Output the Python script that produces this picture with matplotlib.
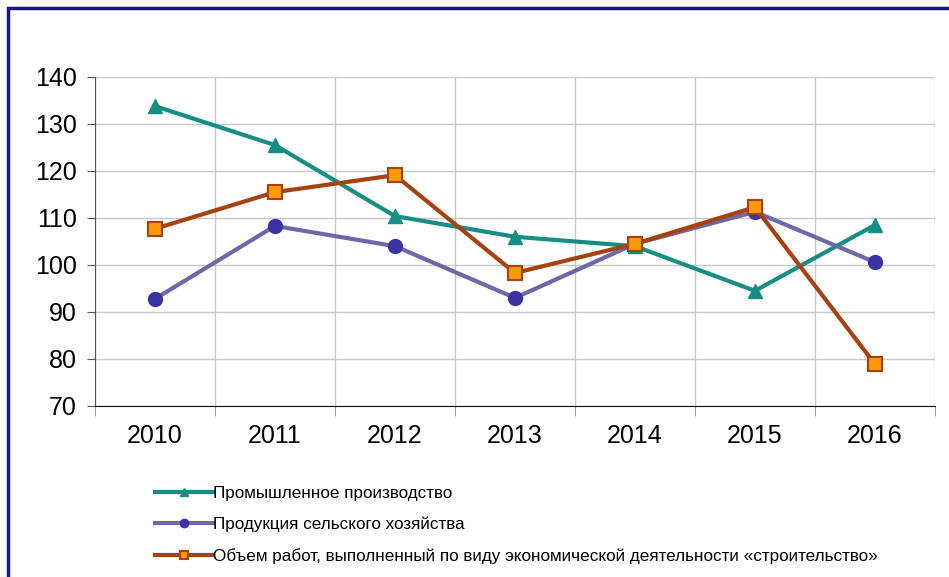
import matplotlib.pyplot as plt
from matplotlib.patches import Rectangle

plt.rcParams['font.family'] = ['Liberation Sans', 'DejaVu Sans']

years = ['2010', '2011', '2012', '2013', '2014', '2015', '2016']
industry = [133.8, 125.5, 110.4, 106.0, 104.0, 94.5, 108.5]
agriculture = [92.8, 108.3, 104.0, 93.0, 104.5, 111.3, 100.6]
construction = [107.7, 115.5, 119.1, 98.3, 104.5, 112.3, 78.9]
labels = ['Промышленное производство',
          'Продукция сельского хозяйства',
          'Объем работ, выполненный по виду экономической деятельности «строительство»']

fig = plt.figure(figsize=(9.49, 5.77), dpi=100)
# frame of the picture (only left and top edges visible)
fig.patches.append(Rectangle((0.0085, -0.05), 1.1, 1.036, transform=fig.transFigure,
                             fill=False, edgecolor='#1a1a80', linewidth=2.5))

ax = fig.add_axes([0.1001, 0.2964, 0.8851, 0.5702])
x = range(len(years))

ax.plot(x, industry, color='#168e84', lw=3, marker='^', ms=10,
        mfc='#168e84', mec='#168e84', label=labels[0], zorder=3)
ax.plot(x, agriculture, color='#6e67a8', lw=3, marker='o', ms=10,
        mfc='#3b33a3', mec='#3b33a3', label=labels[1], zorder=4)
ax.plot(x, construction, color='#a6420f', lw=3, marker='s', ms=10,
        mfc='#ff9a0a', mec='#a6420f', mew=1.5, label=labels[2], zorder=5)

ax.set_xlim(-0.5, 6.5)
ax.set_ylim(70, 140)
ax.set_yticks(range(70, 141, 10))
ax.set_xticks(list(x))
ax.set_xticklabels(years)
ax.set_xticks([i - 0.5 for i in range(8)], minor=True)
ax.tick_params(axis='x', which='major', length=0, pad=13, labelsize=18)
ax.tick_params(axis='x', which='minor', length=7, color='#888888', direction='out')
ax.tick_params(axis='y', length=6, color='#555555', labelsize=18, pad=7)
ax.grid(True, axis='y', color='#c8c8c8', lw=1)
ax.grid(True, axis='x', which='minor', color='#c8c8c8', lw=1)

for s in ['top', 'right']:
    ax.spines[s].set_visible(False)
ax.spines['left'].set_color('#555555')
ax.spines['bottom'].set_color('#111111')

fig.legend(loc='upper left', bbox_to_anchor=(0.163, 0.158), frameon=False,
           handlelength=3.4, handletextpad=0.0, labelspacing=0.93,
           borderpad=0, borderaxespad=0, markerscale=0.6,
           prop={'family': ['Liberation Sans', 'DejaVu Sans'], 'size': 12.3})

fig.savefig('out.png', dpi=100)
